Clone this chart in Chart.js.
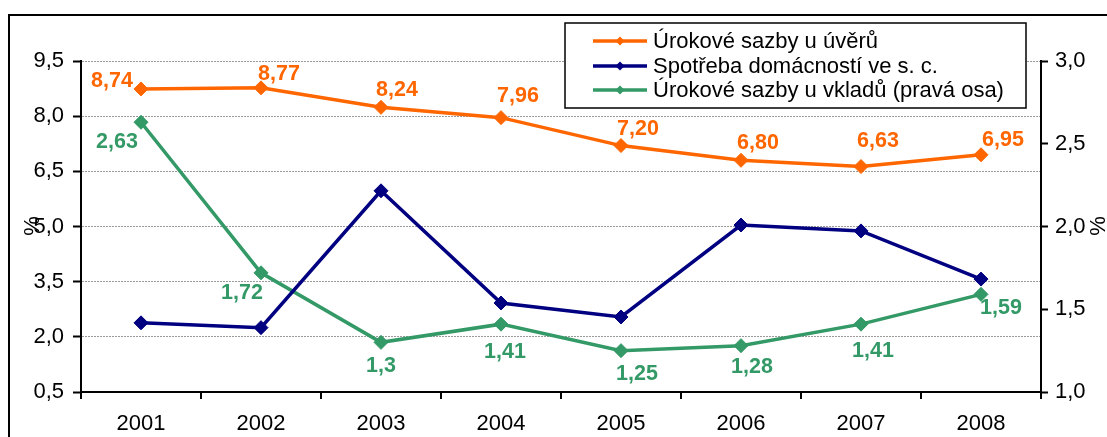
<!DOCTYPE html>
<html>
<head>
<meta charset="utf-8">
<script src="https://cdn.jsdelivr.net/npm/chart.js@4"></script>
<style>
body { margin: 0; background: #fff; }
#wrap { width: 1107px; height: 437px; }
</style>
</head>
<body>
<div id="wrap"><canvas id="graf" width="1107" height="437"></canvas></div>
<script>
// data z obrazku
var roky = ['2001', '2002', '2003', '2004', '2005', '2006', '2007', '2008'];
var uvery = [8.74, 8.77, 8.24, 7.96, 7.20, 6.80, 6.63, 6.95];
var spotreba = [2.38, 2.25, 5.97, 2.92, 2.54, 5.04, 4.88, 3.57];
var vklady = [2.63, 1.72, 1.3, 1.41, 1.25, 1.28, 1.41, 1.59];
var levaOsa = [0.5, 9.5, 1.5];   // min, max, krok
var pravaOsa = [1.0, 3.0, 0.5];

// posuny popisku u bodu (dx, dy)
var posunUvery = [[-29,-8],[18,-14],[16,-17],[17,-22],[17,-17],[17,-17],[17,-25],[22,-15]];
var posunVklady = [[-24,20],[-19,20],[0,24],[4,28],[16,23],[11,21],[12,27],[20,14]];

var pismo = '"Liberation Sans", Arial, sans-serif';

function carka(v, des){
    var s = (des == null) ? String(v) : v.toFixed(des);
    return s.replace('.', ',');
}

// ramecek kolem celeho grafu
var ramecek = {
    id: 'ramecek',
    beforeDraw: function(chart){
        var ctx = chart.ctx;
        ctx.save();
        ctx.fillStyle = '#fff';
        ctx.fillRect(0, 0, chart.width, chart.height);
        ctx.strokeStyle = '#000';
        ctx.lineWidth = 2;
        ctx.strokeRect(9, 15, 1300, 600);
        ctx.restore();
    }
};

// popisky hodnot
var popisky = {
    id: 'popisky',
    afterDatasetsDraw: function(chart){
        var ctx = chart.ctx;
        ctx.save();
        ctx.font = 'bold 21.5px ' + pismo;
        ctx.textAlign = 'center';
        ctx.textBaseline = 'middle';
        chart.data.datasets.forEach(function(ds, i){
            if(!ds.posuny) return;
            var meta = chart.getDatasetMeta(i);
            ctx.fillStyle = ds.borderColor;
            meta.data.forEach(function(pt, j){
                var p = ds.posuny[j];
                ctx.fillText(carka(ds.data[j], ds.desetiny), pt.x + p[0], pt.y + p[1]);
            });
        });
        ctx.restore();
    }
};

// legenda v ramecku a popisky os "%"
var legenda = {
    id: 'legenda',
    afterDraw: function(chart){
        var ctx = chart.ctx;
        ctx.save();
        ctx.fillStyle = '#fff';
        ctx.fillRect(565, 23, 461, 85);
        ctx.strokeStyle = '#000';
        ctx.lineWidth = 1.5;
        ctx.strokeRect(565, 23, 461, 85);
        var radky = [41, 66, 90];
        ctx.font = '22px ' + pismo;
        ctx.textBaseline = 'middle';
        chart.data.datasets.forEach(function(ds, i){
            var y = radky[i];
            ctx.strokeStyle = ds.borderColor;
            ctx.lineWidth = 3.5;
            ctx.beginPath();
            ctx.moveTo(593, y);
            ctx.lineTo(647, y);
            ctx.stroke();
            ctx.fillStyle = ds.borderColor;
            ctx.beginPath();
            ctx.moveTo(620, y - 4.5);
            ctx.lineTo(624.5, y);
            ctx.lineTo(620, y + 4.5);
            ctx.lineTo(615.5, y);
            ctx.closePath();
            ctx.fill();
            ctx.fillStyle = '#000';
            ctx.textAlign = 'left';
            ctx.fillText(ds.label, 653, y + 1);
        });
        ctx.fillStyle = '#000';
        ctx.textAlign = 'center';
        [[33, 226], [1099, 226]].forEach(function(p){
            ctx.save();
            ctx.translate(p[0], p[1]);
            ctx.rotate(-Math.PI / 2);
            ctx.fillText('%', 0, 0);
            ctx.restore();
        });
        ctx.restore();
    }
};

var tickFont = { family: pismo, size: 22 };

new Chart(document.getElementById('graf'), {
    type: 'line',
    data: {
        labels: roky,
        datasets: [
            {
            label: 'Úrokové sazby u úvěrů',
            data: uvery,
            yAxisID: 'y',
            borderColor: '#FF6600',
            backgroundColor: '#FF6600',
            desetiny: 2,
            posuny: posunUvery
            },
            {
            label: 'Spotřeba domácností ve s. c.',
            data: spotreba,
            yAxisID: 'y',
            borderColor: '#000080',
            backgroundColor: '#000080'
            },
            {
            label: 'Úrokové sazby u vkladů (pravá osa)',
            data: vklady,
            yAxisID: 'y1',
            borderColor: '#339966',
            backgroundColor: '#339966',
            desetiny: null,
            posuny: posunVklady
            }
        ]
    },
    options: {
        responsive: false,
        animation: false,
        layout: { padding: { top: 61, left: 0, right: 0, bottom: 0 } },
        elements: {
            line: { borderWidth: 3.5, tension: 0 },
            point: { pointStyle: 'rectRot', radius: 7, borderWidth: 1, hoverRadius: 7 }
        },
        plugins: {
            legend: { display: false },
            tooltip: { enabled: false }
        },
        scales: {
            x: {
                offset: true,
                grid: { offset: true, drawOnChartArea: false, color: '#000', tickColor: '#000', tickLength: 7, lineWidth: 2 },
                border: { color: '#000', width: 2 },
                ticks: { color: '#000', font: tickFont, padding: 12, maxRotation: 0 },
                afterFit: function(s){ s.height = 45; }
            },
            y: {
                position: 'left',
                min: levaOsa[0],
                max: levaOsa[1],
                grid: { color: '#9a9a9a', lineWidth: 1, tickColor: '#000', tickLength: 8, tickWidth: 2, tickBorderDash: [] },
                border: { color: '#000', width: 2, dash: [2, 1] },
                ticks: {
                    stepSize: levaOsa[2],
                    color: '#000',
                    font: tickFont,
                    padding: 9,
                    callback: function(v){ return carka(v, 1); }
                },
                afterFit: function(s){ s.width = 81; }
            },
            y1: {
                position: 'right',
                min: pravaOsa[0],
                max: pravaOsa[1],
                grid: { drawOnChartArea: false, tickColor: '#000', tickLength: 7, tickWidth: 2 },
                border: { color: '#000', width: 2 },
                ticks: {
                    stepSize: pravaOsa[2],
                    color: '#000',
                    font: tickFont,
                    padding: 7,
                    callback: function(v){ return carka(v, 1); }
                },
                afterFit: function(s){ s.width = 66; }
            }
        }
    },
    plugins: [ramecek, popisky, legenda]
});
</script>
</body>
</html>
